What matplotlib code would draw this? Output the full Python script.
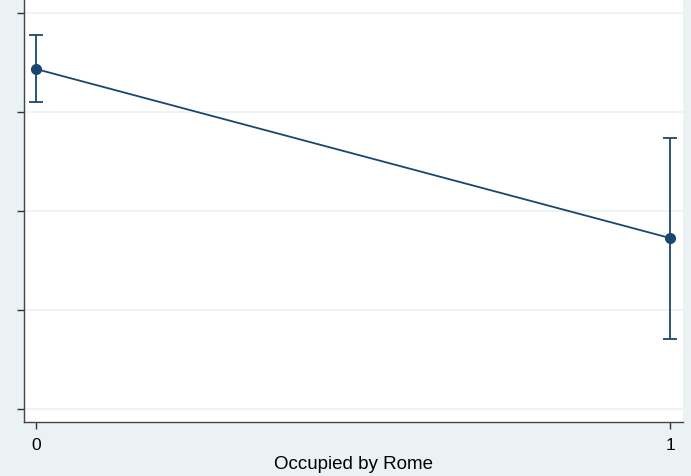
import matplotlib.pyplot as plt

# Stata-style margins plot: predicted value by occupation status
occupied = [0, 1]
margin = [3.434, 1.727]
ci_low = [3.101, 0.707]
ci_high = [3.778, 2.737]
yticks = [0, 1, 2, 3, 4]
xlabel = "Occupied by Rome"

navy = "#1a476f"
bg = "#eaf2f3"

plt.rcParams['font.family'] = ['Liberation Sans', 'DejaVu Sans']

fig = plt.figure(figsize=(6.91, 4.77), dpi=100, facecolor=bg)
ax = fig.add_axes([24 / 691, 54 / 477, 659 / 691, 423 / 477])
ax.set_facecolor("white")

err_lo = [m - l for m, l in zip(margin, ci_low)]
err_hi = [h - m for m, h in zip(margin, ci_high)]
ax.errorbar(occupied, margin, yerr=[err_lo, err_hi], color=navy, lw=1.3,
            marker="o", markersize=7, capsize=5, capthick=1.3, elinewidth=1.3,
            zorder=3)

ax.set_xlim(-0.0189, 1.0205)
ax.set_ylim(-0.131, 4.141)
ax.set_xticks(occupied)
ax.set_xticklabels([str(v) for v in occupied], fontsize=12.5)
ax.set_yticks(yticks)
ax.set_yticklabels([])
ax.grid(axis="y", color=bg, lw=1.2)
ax.set_axisbelow(True)
ax.tick_params(axis="both", length=5, width=1, color="#333333", pad=6)
ax.set_xlabel(xlabel, fontsize=13.5, labelpad=2)

for s in ["top", "right"]:
    ax.spines[s].set_visible(False)
for s in ["left", "bottom"]:
    ax.spines[s].set_color("#444444")
    ax.spines[s].set_linewidth(1)

fig.savefig("out.png", dpi=100, facecolor=bg)
